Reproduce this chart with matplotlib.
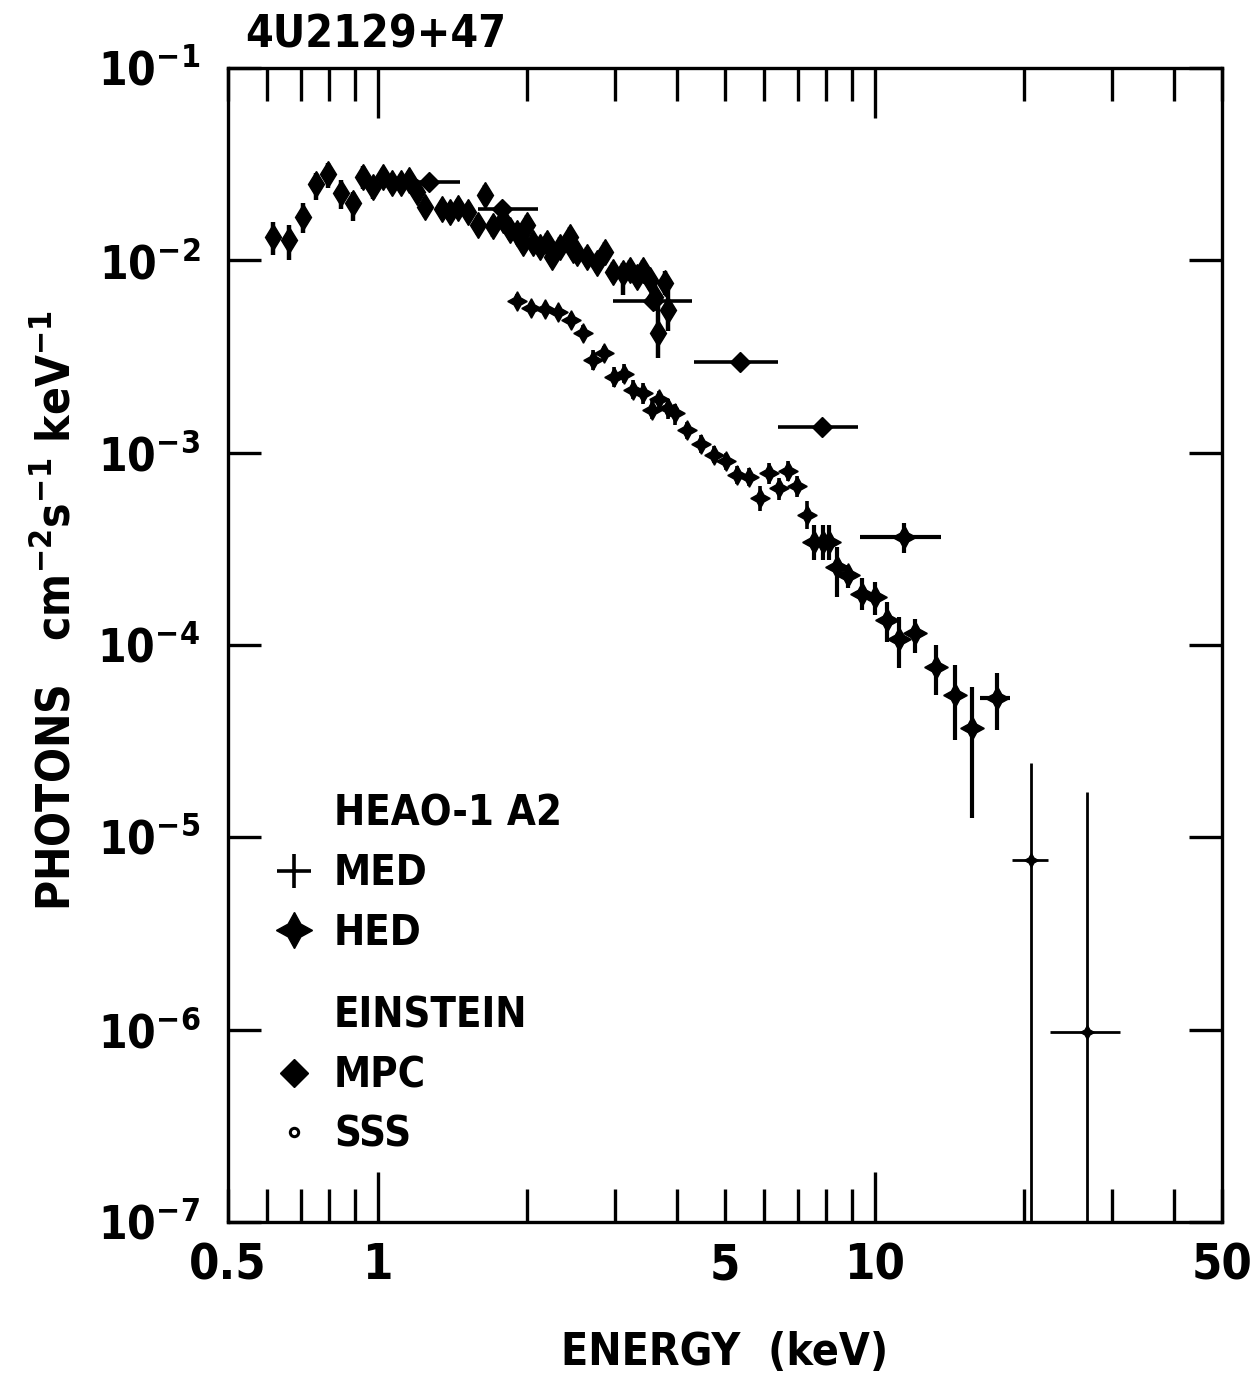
import matplotlib
matplotlib.use("Agg")
import matplotlib.pyplot as plt
from matplotlib.lines import Line2D
import numpy as np

plt.rcParams['font.family'] = ['DejaVu Sans']
plt.rcParams['font.weight'] = 'bold'
plt.rcParams['font.stretch'] = 'condensed'
plt.rcParams['axes.labelweight'] = 'bold'
plt.rcParams['mathtext.fontset'] = 'custom'
plt.rcParams['mathtext.rm'] = 'DejaVu Sans:bold'
plt.rcParams['mathtext.it'] = 'DejaVu Sans:bold'
plt.rcParams['mathtext.bf'] = 'DejaVu Sans:bold'

# --- Einstein SSS: energy (keV), flux, lower / upper bar ends
sss_e = [0.616, 0.663, 0.708, 0.752, 0.795, 0.844, 0.892, 0.935, 0.979, 1.025,
         1.069, 1.115, 1.157, 1.200, 1.246, 1.348, 1.398, 1.451, 1.520, 1.592,
         1.645, 1.709, 1.788, 1.847, 1.908, 1.998, 1.962, 2.055, 2.122, 2.192,
         2.243, 2.328, 2.438, 2.470, 2.519, 2.638, 2.764, 2.868, 2.976, 3.117,
         3.220, 3.326, 3.420, 3.532, 3.615, 3.787, 3.840, 3.666]
sss_f = [0.0132, 0.0128, 0.0168, 0.0249, 0.0281, 0.0224, 0.0199, 0.0271, 0.0241, 0.0271,
         0.0252, 0.0252, 0.0262, 0.0227, 0.0189, 0.0185, 0.0178, 0.0187, 0.0178, 0.0153,
         0.0219, 0.0150, 0.0162, 0.0144, 0.0139, 0.0153, 0.0123, 0.0123, 0.0117, 0.0123,
         0.0104, 0.0117, 0.0132, 0.0113, 0.0109, 0.0104, 0.0097, 0.0110, 0.0087, 0.0086,
         0.0089, 0.0082, 0.0089, 0.0079, 0.00645, 0.0076, 0.0055, 0.0042]
sss_lo = [0.0107, 0.0100, 0.0139, 0.0206, 0.0238, 0.0185, 0.0160, 0.0235, 0.0208, 0.0238,
          0.0224, 0.0224, 0.0235, 0.0203, 0.0168, 0.0166, 0.0160, 0.0168, 0.0160, 0.0136,
          0.0195, 0.0133, 0.0144, 0.0128, 0.0123, 0.0136, 0.0109, 0.0109, 0.0104, 0.0109,
          0.0092, 0.0104, 0.0117, 0.0100, 0.0097, 0.0092, 0.0086, 0.0098, 0.0077, 0.0066,
          0.0079, 0.0073, 0.0079, 0.0070, 0.0055, 0.0066, 0.0043, 0.0031]
sss_hi = [0.0158, 0.0153, 0.0199, 0.0284, 0.0321, 0.0262, 0.0227, 0.0309, 0.0271, 0.0302,
          0.0281, 0.0281, 0.0291, 0.0252, 0.0213, 0.0206, 0.0199, 0.0208, 0.0199, 0.0172,
          0.0245, 0.0169, 0.0183, 0.0162, 0.0156, 0.0172, 0.0139, 0.0139, 0.0132, 0.0139,
          0.0117, 0.0132, 0.0149, 0.0127, 0.0123, 0.0117, 0.0109, 0.0124, 0.0098, 0.0097,
          0.0100, 0.0092, 0.0100, 0.0089, 0.0076, 0.0088, 0.0070, 0.0062]

# --- Einstein MPC: energy, channel edges, flux
mpc_e = [1.269, 1.779, 3.581, 5.361, 7.828]
mpc_elo = [1.200, 1.592, 2.976, 4.330, 6.389]
mpc_ehi = [1.465, 2.102, 4.292, 6.390, 9.273]
mpc_f = [0.0255, 0.0185, 0.00614, 0.00297, 0.001364]

# --- HEAO-1 A2 MED
med_e = [1.905, 2.032, 2.172, 2.310, 2.446, 2.586, 2.716, 2.855, 2.990, 3.132,
         3.270, 3.415, 3.560, 3.688, 3.845, 3.967, 4.189, 4.468, 4.753, 5.023,
         5.293, 5.589, 5.882, 6.141, 6.433, 6.687, 6.990, 7.301]
med_f = [0.00617, 0.00563, 0.00556, 0.00537, 0.00489, 0.00420, 0.00303, 0.00328, 0.00248, 0.00256,
         0.00212, 0.00205, 0.00167, 0.00189, 0.00170, 0.00160, 0.00131, 0.00111, 0.000972, 0.000904,
         0.000765, 0.000744, 0.000579, 0.000780, 0.000652, 0.000805, 0.000670, 0.000474]
med_lo = [0.0057, 0.0052, 0.0052, 0.0050, 0.0045, 0.0039, 0.0027, 0.0030, 0.0022, 0.0023,
          0.0019, 0.0018, 0.0015, 0.0017, 0.0015, 0.0014, 0.00118, 0.00100, 0.00088, 0.00081,
          0.00069, 0.00067, 0.00050, 0.00069, 0.00057, 0.00071, 0.00059, 0.00040]
med_hi = [0.0067, 0.0061, 0.0060, 0.0058, 0.0053, 0.0046, 0.0034, 0.0036, 0.0028, 0.0029,
          0.0024, 0.0023, 0.0019, 0.0021, 0.0019, 0.0018, 0.00145, 0.00123, 0.00108, 0.00100,
          0.00085, 0.00083, 0.00067, 0.00088, 0.00074, 0.00091, 0.00076, 0.00056]

# --- HEAO-1 A2 HED
hed_e = [7.551, 7.864, 8.108, 8.414, 8.853, 9.42, 10.02, 10.58, 11.21, 12.06,
         13.27, 14.52, 15.73, 17.61, 11.48]
hed_f = [0.000344, 0.000344, 0.000344, 0.000253, 0.000231, 0.000185, 0.000178, 0.000135,
         0.000108, 0.000115, 7.70e-5, 5.49e-5, 3.68e-5, 5.28e-5, 0.000365]
hed_lo = [0.000276, 0.000276, 0.000276, 0.000178, 0.000197, 0.000152, 0.000143, 0.000104,
          7.55e-5, 9.04e-5, 5.49e-5, 3.20e-5, 1.26e-5, 3.61e-5, 0.000300]
hed_hi = [0.000420, 0.000420, 0.000420, 0.000324, 0.000260, 0.000222, 0.000213, 0.000168,
          0.000140, 0.000137, 9.99e-5, 7.86e-5, 6.06e-5, 7.12e-5, 0.000429]
hed_elo = [7.551, 7.864, 8.108, 8.414, 8.853, 9.42, 10.02, 10.58, 11.21, 12.06,
           13.27, 14.52, 15.73, 16.30, 9.346]
hed_ehi = [7.551, 7.864, 8.108, 8.414, 8.853, 9.42, 10.02, 10.58, 11.21, 12.06,
           13.27, 14.52, 15.73, 18.73, 13.62]

# --- highest energy bins
hi_e = [20.61, 26.79]
hi_elo = [18.88, 22.54]
hi_ehi = [22.36, 31.17]
hi_f = [7.61e-6, 9.74e-7]
hi_lo = [5e-8, 5e-8]
hi_hi = [2.42e-5, 1.72e-5]

x_labels = {0.5: '0.5', 1: '1', 5: '5', 10: '10', 50: '50'}


def yerr(f, lo, hi):
    f = np.asarray(f)
    return [f - np.asarray(lo), np.asarray(hi) - f]


def xerr(e, lo, hi):
    e = np.asarray(e)
    return [e - np.asarray(lo), np.asarray(hi) - e]


fig = plt.figure(figsize=(12.54, 13.77), dpi=100)
ax = fig.add_axes([0.1818, 0.1126, 0.7927, 0.8380])
ax.set_xscale('log')
ax.set_yscale('log')
ax.set_xlim(0.5, 50)
ax.set_ylim(1e-7, 1e-1)

star4 = (4, 1, 0)

ax.errorbar(sss_e, sss_f, yerr=yerr(sss_f, sss_lo, sss_hi), fmt='d', color='black',
            ms=13, elinewidth=3.2, capsize=0)
ax.errorbar(mpc_e, mpc_f, xerr=xerr(mpc_e, mpc_elo, mpc_ehi), fmt='D', color='black',
            ms=10, elinewidth=2.6, capsize=0)
ax.errorbar(med_e, med_f, yerr=yerr(med_f, med_lo, med_hi), fmt='none', color='black',
            elinewidth=2.6, capsize=0)
ax.plot(med_e, med_f, ls='none', marker=star4, ms=14, color='black')
ax.errorbar(hed_e, hed_f, yerr=yerr(hed_f, hed_lo, hed_hi),
            xerr=xerr(hed_e, hed_elo, hed_ehi), fmt='none', color='black',
            elinewidth=3.0, capsize=0)
ax.plot(hed_e, hed_f, ls='none', marker=star4, ms=17, color='black')
ax.errorbar(hi_e, hi_f, yerr=yerr(hi_f, hi_lo, hi_hi),
            xerr=xerr(hi_e, hi_elo, hi_ehi), fmt='none', color='black',
            elinewidth=2.0, capsize=0)
ax.plot(hi_e, hi_f, ls='none', marker=star4, ms=10, color='black')

# axes frame and ticks
for s in ax.spines.values():
    s.set_linewidth(2.4)
ax.set_xticks([1, 10])
ax.set_xticklabels(['1', '10'])
minor_pos = [0.5, 0.6, 0.7, 0.8, 0.9, 2, 3, 4, 5, 6, 7, 8, 9, 20, 30, 40, 50]
ax.set_xticks(minor_pos, minor=True)
ax.set_xticklabels([x_labels.get(p, '') for p in minor_pos], minor=True)
ax.set_yticks([10.0 ** k for k in range(-7, 0)])
ax.set_yticklabels([r'$10^{%d}$' % k for k in range(-7, 0)])
ax.yaxis.set_minor_locator(matplotlib.ticker.NullLocator())
ax.tick_params(axis='x', which='major', direction='in', length=36, width=2.4,
               top=True, labelsize=35, pad=14)
ax.tick_params(axis='x', which='minor', direction='in', length=24, width=2.4,
               top=True, labelsize=35, pad=14)
ax.tick_params(axis='y', which='major', direction='in', length=24, width=2.4,
               right=True, labelsize=33, pad=20)

ax.set_xlabel('ENERGY  (keV)', fontsize=32, labelpad=30)
ax.set_ylabel(r'PHOTONS   cm$^{-2}$s$^{-1}$ keV$^{-1}$', fontsize=33)
ax.yaxis.set_label_coords(-0.149, 0.53)
ax.text(0.017, 1.010, '4U2129+47', transform=ax.transAxes, fontsize=32,
        ha='left', va='bottom')

# key for the two instruments
blank = Line2D([], [], ls='none')
med_key = Line2D([], [], ls='none', marker='+', ms=24, mew=2.6, color='black')
hed_key = Line2D([], [], ls='none', marker=star4, ms=26, color='black')
leg1 = ax.legend([blank, med_key, hed_key], ['HEAO-1 A2', 'MED', 'HED'],
                 loc='upper left', bbox_to_anchor=(0.027, 0.39), frameon=False,
                 fontsize=30, handlelength=0.9, handletextpad=0.5,
                 labelspacing=0.42, borderpad=0)
ax.add_artist(leg1)
mpc_key = Line2D([], [], ls='none', marker='D', ms=14, color='black')
sss_key = Line2D([], [], ls='none', marker='o', ms=6, mfc='white', mew=2.2,
                 color='black')
ax.legend([blank, mpc_key, sss_key], ['EINSTEIN', 'MPC', 'SSS'],
          loc='upper left', bbox_to_anchor=(0.027, 0.215), frameon=False,
          fontsize=30, handlelength=0.9, handletextpad=0.5,
          labelspacing=0.42, borderpad=0)

fig.savefig('out.png', dpi=100)
